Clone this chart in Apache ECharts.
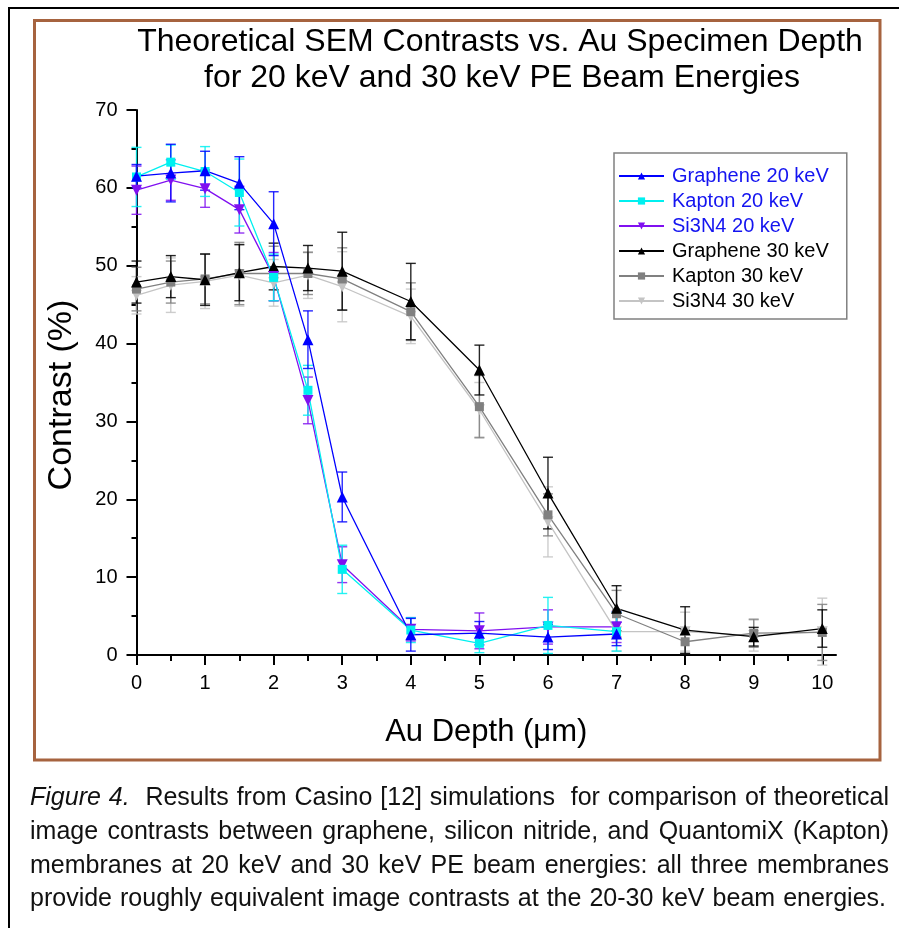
<!DOCTYPE html>
<html>
<head>
<meta charset="utf-8">
<script src="https://cdn.jsdelivr.net/npm/echarts@6/dist/echarts.min.js"></script>
<style>
html,body{margin:0;padding:0;background:#fff;}
#chart{width:899px;height:928px;}
</style>
</head>
<body>
<div id="chart"></div>
<script>
var myChart = echarts.init(document.getElementById('chart'));

// depth (um)
var depth20 = [0, 0.5, 1, 1.5, 2, 2.5, 3, 4, 5, 6, 7];
var depth30 = [0, 0.5, 1, 1.5, 2, 2.5, 3, 4, 5, 6, 7, 8, 9, 10];

// contrast (%) and error
var graphene20 = [61.5, 61.9, 62.2, 60.6, 55.4, 40.5, 20.3, 2.6, 2.8, 2.3, 2.7];
var graphene20Err = [1.5, 3.7, 2.5, 3.4, 4.1, 3.7, 3.2, 2.1, 1.5, 1.6, 1.5];
var kapton20 = [61.4, 63.3, 62.1, 59.4, 48.5, 34.0, 11.0, 3.2, 1.5, 3.8, 3.0];
var kapton20Err = [3.8, 2.2, 3.2, 4.3, 3.0, 3.2, 3.1, 1.6, 1.2, 3.6, 2.5];
var si3n420 = [59.7, 61.0, 59.9, 57.2, 48.6, 32.7, 11.6, 3.3, 3.1, 3.6, 3.6];
var si3n420Err = [3.1, 2.6, 2.4, 3.0, 3.1, 3.0, 2.3, 1.5, 2.3, 2.2, 2.0];

var graphene30 = [47.9, 48.6, 48.2, 49.1, 49.9, 49.7, 49.3, 45.4, 36.6, 20.8, 6.0, 3.2, 2.35, 3.4];
var graphene30Err = [2.7, 2.7, 3.3, 3.6, 3.0, 2.9, 5.0, 4.9, 3.2, 4.6, 2.9, 3.0, 1.2, 2.4];
var kapton30 = [47.0, 47.9, 48.3, 49.0, 49.0, 49.0, 48.3, 44.1, 31.9, 18.0, 5.3, 1.7, 2.8, 2.9];
var kapton30Err = [2.8, 2.7, 3.2, 4.0, 3.5, 2.7, 4.0, 3.7, 4.0, 2.7, 3.0, 1.5, 1.8, 3.6];
var si3n430 = [46.2, 47.5, 48.0, 48.8, 47.8, 48.8, 47.3, 43.5, 31.5, 17.1, 3.0, 3.0, 2.5, 3.0];
var si3n430Err = [2.4, 3.5, 3.5, 4.0, 3.0, 3.0, 4.5, 3.5, 3.5, 4.5, 2.5, 2.5, 2.0, 4.3];

var xLabels = [0, 1, 2, 3, 4, 5, 6, 7, 8, 9, 10];
var xMinor = [0.5, 1.5, 2.5, 3.5, 4.5, 5.5, 6.5, 7.5, 8.5, 9.5];

var captionLines = [
    'Figure 4.  Results from Casino [12] simulations  for comparison of theoretical',
    'image contrasts between graphene, silicon nitride, and QuantomiX (Kapton)',
    'membranes at 20 keV and 30 keV PE beam energies: all three membranes',
    'provide roughly equivalent image contrasts at the 20-30 keV beam energies.'
];

var FONT = '"Liberation Sans", Arial, sans-serif';

//系列定义
var seriesDefs = [
    {name: 'Graphene 20 keV', x: depth20, y: graphene20, e: graphene20Err, color: '#0000ff', symbol: 'triangle', rot: 0, size: 11, text: '#1414f0'},
    {name: 'Kapton 20 keV', x: depth20, y: kapton20, e: kapton20Err, color: '#00f0f0', symbol: 'rect', rot: 0, size: 9, text: '#1414f0'},
    {name: 'Si3N4 20 keV', x: depth20, y: si3n420, e: si3n420Err, color: '#8010f0', symbol: 'triangle', rot: 180, size: 11, text: '#1414f0'},
    {name: 'Graphene 30 keV', x: depth30, y: graphene30, e: graphene30Err, color: '#000000', symbol: 'triangle', rot: 0, size: 11, text: '#000'},
    {name: 'Kapton 30 keV', x: depth30, y: kapton30, e: kapton30Err, color: '#808080', symbol: 'rect', rot: 0, size: 9, text: '#000'},
    {name: 'Si3N4 30 keV', x: depth30, y: si3n430, e: si3n430Err, color: '#c4c4c4', symbol: 'triangle', rot: 180, size: 11, text: '#000'}
];

function errorBarItem(params, api) {
    var x = api.value(0);
    var top = api.coord([x, api.value(2)]);
    var bot = api.coord([x, api.value(1)]);
    var hw = 5;
    var style = {stroke: api.visual('color'), lineWidth: 1.4, opacity: 0.85};
    return {
        type: 'group',
        children: [
            {type: 'line', shape: {x1: top[0], y1: top[1], x2: bot[0], y2: bot[1]}, style: style},
            {type: 'line', shape: {x1: top[0] - hw, y1: top[1], x2: top[0] + hw, y2: top[1]}, style: style},
            {type: 'line', shape: {x1: bot[0] - hw, y1: bot[1], x2: bot[0] + hw, y2: bot[1]}, style: style}
        ]
    };
}

var series = [];
// error bars first (behind)
seriesDefs.slice().reverse().forEach(function (d) {
    series.push({
        name: d.name + ' err',
        type: 'custom',
        renderItem: errorBarItem,
        itemStyle: {color: d.color},
        encode: {x: 0, y: [1, 2]},
        data: d.x.map(function (xv, i) { return [xv, d.y[i] - d.e[i], d.y[i] + d.e[i]]; }),
        z: 1,
        silent: true
    });
});
seriesDefs.slice().reverse().forEach(function (d) {
    series.push({
        name: d.name,
        type: 'line',
        data: d.x.map(function (xv, i) { return [xv, d.y[i]]; }),
        symbol: d.symbol,
        symbolSize: d.size,
        symbolRotate: d.rot,
        showAllSymbol: true,
        lineStyle: {color: d.color, width: 1.3},
        itemStyle: {color: d.color},
        z: 3
    });
});

//图注两端对齐
var ctx = document.createElement('canvas').getContext('2d');
var capSize = 25;
var capLeft = 30;
var capRight = [889, 889, 889, 886];
var capY = [798, 832, 866, 899];
var graphics = [];
captionLines.forEach(function (line, li) {
    var tokens = line.split(' ');
    var items = tokens.map(function (t, ti) {
        var italic = (li === 0 && ti < 2);
        ctx.font = (italic ? 'italic ' : '') + capSize + 'px ' + FONT;
        return {t: t, italic: italic, w: ctx.measureText(t).width};
    });
    var total = items.reduce(function (s, it) { return s + it.w; }, 0);
    var gap = (capRight[li] - capLeft - total) / (items.length - 1);
    var x = capLeft;
    items.forEach(function (it) {
        if (it.t) {
            graphics.push({
                type: 'text', x: x, y: capY[li],
                style: {text: it.t, fontSize: capSize, fontFamily: FONT, fontStyle: it.italic ? 'italic' : 'normal',
                    fill: '#111', textVerticalAlign: 'middle', textAlign: 'left'}
            });
        }
        x += it.w + gap;
    });
});

// frames and title
graphics.push({type: 'rect', shape: {x: 9, y: 8, width: 900, height: 940}, style: {fill: null, stroke: '#000', lineWidth: 2}, silent: true});
graphics.push({type: 'rect', shape: {x: 34.5, y: 20.5, width: 845.5, height: 739.5}, style: {fill: null, stroke: '#a6633f', lineWidth: 3}, silent: true});
graphics.push({type: 'text', x: 500, y: 42, style: {text: 'Theoretical SEM Contrasts vs. Au Specimen Depth', fontSize: 32, fontFamily: FONT, fill: '#000', textAlign: 'center', textVerticalAlign: 'middle'}});
graphics.push({type: 'text', x: 502, y: 78, style: {text: 'for 20 keV and 30 keV PE Beam Energies', fontSize: 32, fontFamily: FONT, fill: '#000', textAlign: 'center', textVerticalAlign: 'middle'}});
graphics.push({type: 'text', x: 62, y: 395, rotation: Math.PI / 2, style: {text: 'Contrast (%)', fontSize: 34, fontFamily: FONT, fill: '#000', textAlign: 'center', textVerticalAlign: 'middle'}});

var option = {
    backgroundColor: '#fff',
    animation: false,
    textStyle: {fontFamily: FONT},
    grid: {left: 136.5, top: 110, right: 63, bottom: 273, containLabel: false},
    legend: {
        orient: 'vertical',
        left: 614,
        top: 153,
        itemWidth: 45,
        itemHeight: 9,
        itemGap: 5,
        padding: [13, 18, 8, 4],
        borderColor: '#808080',
        borderWidth: 1.5,
        textStyle: {fontSize: 20, fontFamily: FONT, padding: [0, 0, 0, 3]},
        data: seriesDefs.map(function (d) { return {name: d.name, textStyle: {color: d.text}}; })
    },
    xAxis: [{
        type: 'value',
        min: 0,
        max: 10.2,
        name: 'Au Depth (\u03bcm)',
        nameLocation: 'middle',
        nameGap: 62,
        nameTextStyle: {fontSize: 31, color: '#000', fontFamily: FONT},
        axisLine: {show: true, onZero: false, lineStyle: {color: '#000', width: 2}},
        axisTick: {show: true, inside: false, length: 10, customValues: xLabels, lineStyle: {color: '#000', width: 2}},
        axisLabel: {show: true, customValues: xLabels, fontSize: 20, color: '#000', margin: 18},
        splitLine: {show: false}
    }, {
        type: 'value',
        min: 0,
        max: 10.2,
        position: 'bottom',
        axisLine: {show: false},
        axisTick: {show: true, inside: false, length: 6, customValues: xMinor, lineStyle: {color: '#000', width: 2}},
        axisLabel: {show: false},
        splitLine: {show: false}
    }],
    yAxis: {
        type: 'value',
        min: 0,
        max: 70,
        interval: 10,
        axisLine: {show: true, onZero: false, lineStyle: {color: '#000', width: 2}},
        axisTick: {show: true, inside: false, length: 10, lineStyle: {color: '#000', width: 2}},
        minorTick: {show: true, splitNumber: 2, length: 5, lineStyle: {color: '#000', width: 2}},
        axisLabel: {fontSize: 20, color: '#000', margin: 19},
        splitLine: {show: false}
    },
    graphic: graphics,
    series: series
};
myChart.setOption(option);
</script>
</body>
</html>
